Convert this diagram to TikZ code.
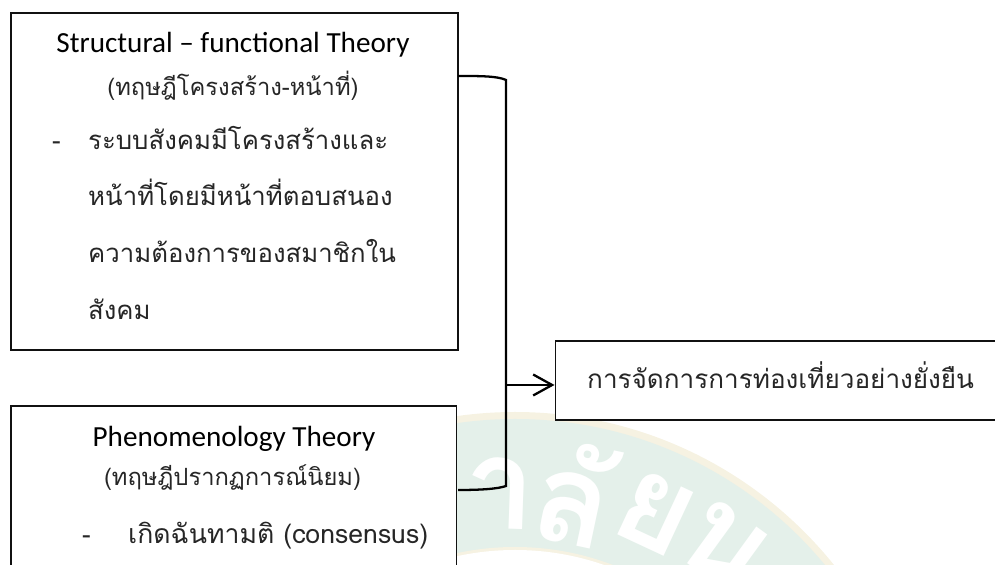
\documentclass[tikz,border=0pt]{standalone}
\usepackage{fontspec}
\setsansfont{Carlito}
\newfontfamily\thaifont[Script=Thai]{Loma}
\usetikzlibrary{arrows.meta,positioning}
\definecolor{inkline}{HTML}{111111}
\definecolor{ringgreen}{HTML}{E4F0EA}
\definecolor{ringcream}{HTML}{F6F2E2}
\tikzset{
  theorytitle/.style={font=\sffamily\fontsize{16.6}{19}\selectfont,text=black,anchor=base},
  thaihead/.style={font=\thaifont\fontsize{13.5}{16}\selectfont,text=black!85,anchor=base},
  thaibody/.style={font=\thaifont\fontsize{14.65}{18}\selectfont,text=black!85,anchor=base west},
  seal/.style={font=\thaifont\bfseries\fontsize{72}{76}\selectfont,text=white,anchor=center},
  panel/.style={draw=inkline,fill=white,line width=1.05pt,anchor=north west,inner sep=0pt},
  conn/.style={draw=black,line width=1.3pt},
  arr/.style={-{Straight Barb[length=3.8mm,width=4.2mm,line width=1.3pt]},draw=black,line width=1.3pt}
}
\begin{document}
\begin{tikzpicture}[x=1cm,y=1cm]
\path[use as bounding box] (0,0) rectangle (19.9,11.3);
\coordinate (ringc) at (10.3,-5.12);
\fill[ringcream] (ringc) circle (8.18);
\fill[ringgreen] (ringc) circle (8.04);
\fill[ringcream] (ringc) circle (5.48);
\fill[white] (ringc) circle (5.42);
\node[seal,rotate=-2] (sealone) at (10,1.44) {า};
\node[seal,rotate=-12] (sealtwo) at (11.5,1.42) {ลั};
\node[seal,rotate=-25] (sealthree) at (13.1,1.04) {ย};
\node[seal,rotate=-36] (sealfour) at (14.5,0.36) {น};
\node[panel,minimum width=8.94cm,minimum height=6.74cm] (structbox) at (0.2,11.06) {};
\node[panel,minimum width=8.91cm,minimum height=3.6cm] (phenobox) at (0.2,3.2) {};
\node[panel,minimum width=9.2cm,minimum height=1.58cm] (managebox) at (11.09,4.5) {};
\node[theorytitle] (structtitle) at (4.66,10.24) {Structural – functional Theory};
\node[thaihead] (structthai) at (4.66,9.38) {(ทฤษฎีโครงสร้าง-หน้าที่)};
\node[thaibody] (structdash) at (0.92,8.3) {-};
\foreach \y/\nm/\ln in {8.3/one/{ระบบสังคมมีโครงสร้างและ},7.18/two/{หน้าที่โดยมีหน้าที่ตอบสนอง},6.04/three/{ความต้องการของสมาชิกใน},4.9/four/{สังคม}}
{
\node[thaibody] (struct\nm) at (1.64,\y) {\ln};
}
\node[theorytitle] (phenotitle) at (4.68,2.36) {Phenomenology Theory};
\node[thaihead] (phenothai) at (4.65,1.58) {(ทฤษฎีปรากฏการณ์นิยม)};
\node[thaibody] (phenodash) at (1.52,0.42) {-};
\node[thaibody,font=\thaifont\fontsize{15.15}{18}\selectfont] (phenoline) at (2.44,0.42) {เกิดฉันทามติ (consensus)};
\node[thaibody,font=\thaifont\fontsize{14.85}{18}\selectfont] (managetext) at (11.62,3.52) {การจัดการการท่องเที่ยวอย่างยั่งยืน};
\coordinate (structout) at (9.16,9.78);
\coordinate (phenoout) at (9.16,1.5);
\coordinate (bustop) at (10.12,9.7);
\coordinate (busbot) at (10.12,1.58);
\coordinate (hub) at (10.12,3.6);
\draw[conn] (structout) .. controls (9.6,9.78) and (9.95,9.78) .. (bustop) -- (busbot) .. controls (9.95,1.52) and (9.6,1.5) .. (phenoout);
\draw[arr] (hub) -- (managebox.west |- hub);
\end{tikzpicture}
\end{document}
